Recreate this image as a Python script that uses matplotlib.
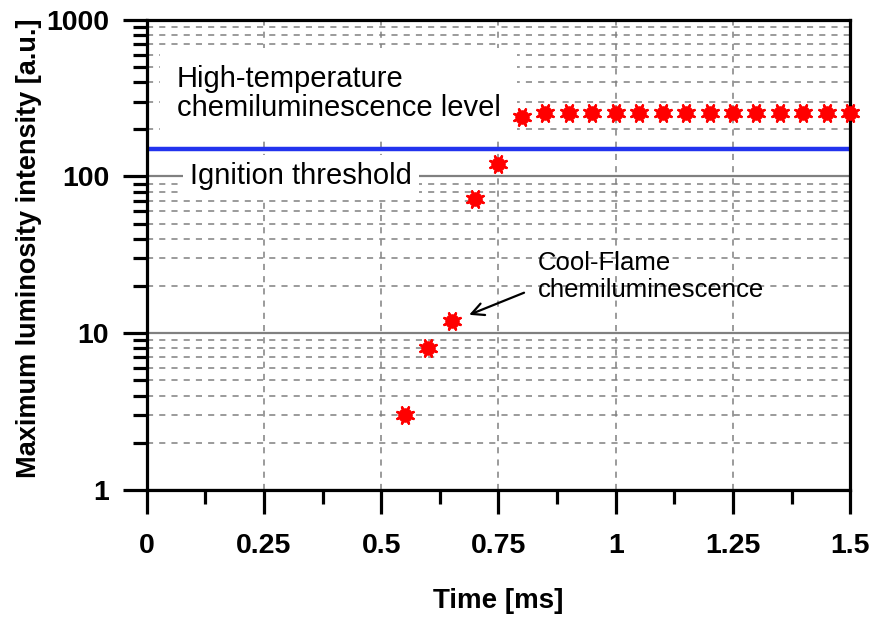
import matplotlib
matplotlib.use('Agg')
import matplotlib.pyplot as plt
from matplotlib.ticker import FixedLocator, LogLocator, NullFormatter

plt.rcParams['font.family'] = ['Liberation Sans', 'DejaVu Sans']

# data
time_ms = [0.55, 0.60, 0.65, 0.70, 0.75, 0.80, 0.85, 0.90, 0.95, 1.00, 1.05,
           1.10, 1.15, 1.20, 1.25, 1.30, 1.35, 1.40, 1.45, 1.50]
intensity = [3, 8, 12, 72, 120, 240, 255, 255, 255, 255, 255,
             255, 255, 255, 255, 255, 255, 255, 255, 255]
threshold = 150
x_ticks = [0, 0.25, 0.5, 0.75, 1, 1.25, 1.5]
x_labels = ['0', '0.25', '0.5', '0.75', '1', '1.25', '1.5']
y_ticks = [1, 10, 100, 1000]
y_labels = ['1', '10', '100', '1000']

fig = plt.figure(figsize=(8.73, 6.17), dpi=100)
ax = fig.add_axes([0.168, 0.206, 0.806, 0.762])

ax.set_yscale('log')
ax.set_xlim(0, 1.5)
ax.set_ylim(1, 1000)

# grid
ax.yaxis.set_minor_locator(LogLocator(base=10, subs=range(2, 10)))
ax.yaxis.set_minor_formatter(NullFormatter())
ax.xaxis.set_minor_locator(FixedLocator([0.125, 0.375, 0.625, 0.875, 1.125, 1.375]))
ax.grid(True, which='major', axis='y', color='#808080', lw=1.6, ls='-', zorder=1)
ax.grid(True, which='minor', axis='y', color='#808080', lw=1.1, ls=(0, (4, 4)), zorder=1)
ax.grid(True, which='major', axis='x', color='#808080', lw=1.1, ls=(0, (4, 4)), zorder=1)

ax.set_xticks(x_ticks)
ax.set_xticklabels(x_labels)
ax.set_yticks(y_ticks)
ax.set_yticklabels(y_labels)

for s in ax.spines.values():
    s.set_linewidth(2.3)
    s.set_zorder(5)

ax.tick_params(axis='both', which='major', direction='out', length=17, width=2.3,
               labelsize=20.5)
ax.tick_params(axis='y', which='major', pad=10)
ax.tick_params(axis='x', which='major', pad=14)
ax.tick_params(axis='both', which='minor', direction='out', length=10, width=2.3)
for lab in ax.get_xticklabels() + ax.get_yticklabels():
    lab.set_fontweight('bold')

ax.axhline(threshold, color='#2233ee', lw=3.2, zorder=3)

ax.plot(time_ms, intensity, 'o', color='red', ms=9.5, mec='red', zorder=6, clip_on=False)
ax.plot(time_ms, intensity, ls='none', marker=(8, 2, 22.5), color='red', ms=14,
        mew=1.6, zorder=6, clip_on=False)

ax.text(0.064, 340, 'High-temperature\nchemiluminescence level', fontsize=21,
        va='center', ha='left', linespacing=1.05,
        bbox=dict(facecolor='white', edgecolor='none', pad=12), zorder=2)
ax.text(0.092, 100, 'Ignition threshold', fontsize=21, va='center', ha='left',
        bbox=dict(facecolor='white', edgecolor='none', pad=5), zorder=2)
ax.text(0.834, 23, 'Cool-Flame\nchemiluminescence', fontsize=18.5, va='center',
        ha='left', linespacing=1.12, zorder=4)
ax.annotate('', xy=(0.682, 12.9), xytext=(0.81, 18.4),
            arrowprops=dict(arrowstyle='->', color='black', lw=1.6, mutation_scale=22),
            zorder=4)

ax.set_xlabel('Time [ms]', fontsize=20, fontweight='bold', labelpad=21)
ax.set_ylabel('Maximum luminosity intensity [a.u.]', fontsize=19.5, fontweight='bold')
ax.yaxis.set_label_coords(-0.149, 0.515)

fig.savefig('out.png', dpi=100)
